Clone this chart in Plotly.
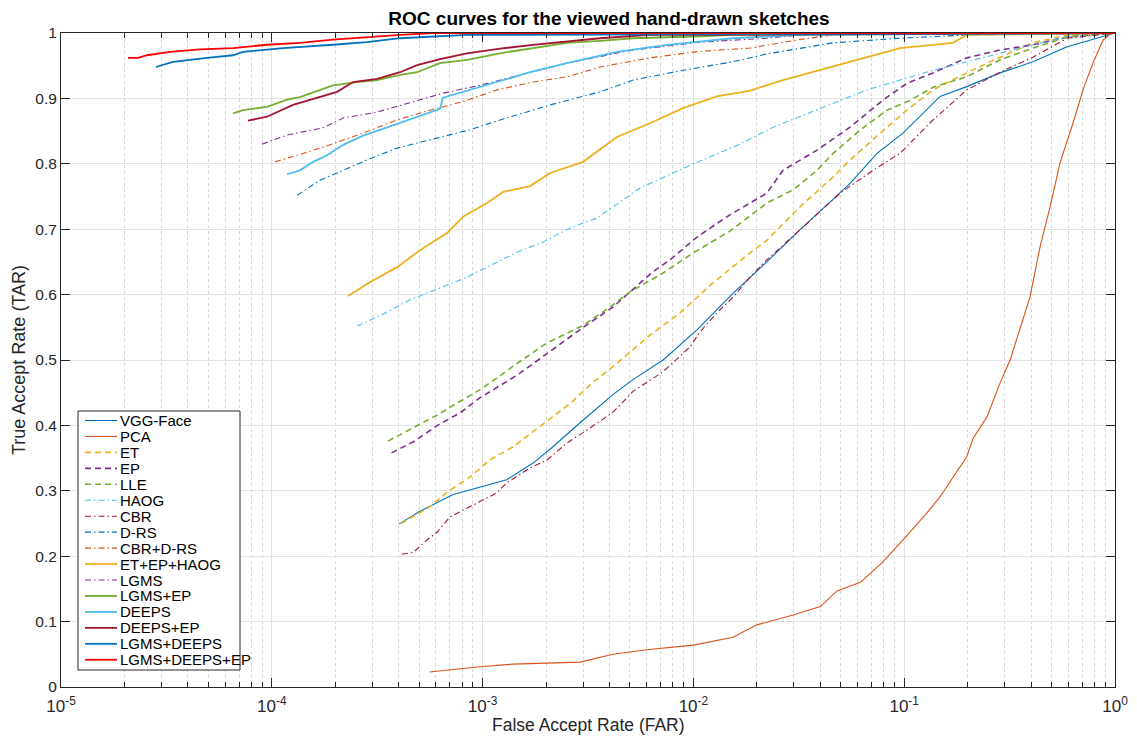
import plotly.graph_objects as go

# ---------------- data ----------------
series_names = ["VGG-Face", "PCA", "ET", "EP", "LLE", "HAOG", "CBR", "D-RS", "CBR+D-RS",
                "ET+EP+HAOG", "LGMS", "LGMS+EP", "DEEPS", "DEEPS+EP", "LGMS+DEEPS", "LGMS+DEEPS+EP"]

far_vgg = [4.0e-4, 5.0e-4, 7.2e-4, 1.0e-3, 1.3e-3, 1.73e-3, 2.15e-3, 2.9e-3, 4.15e-3, 5.17e-3, 7.18e-3,
           1.04e-2, 1.54e-2, 2.23e-2, 3.2e-2, 5.54e-2, 7.43e-2, 9.87e-2, 0.148, 0.198, 0.285, 0.408, 0.593, 1.0]
tar_vgg = [0.249, 0.268, 0.294, 0.307, 0.317, 0.342, 0.367, 0.404, 0.447, 0.47, 0.5,
           0.546, 0.602, 0.65, 0.699, 0.77, 0.816, 0.847, 0.903, 0.918, 0.939, 0.956, 0.979, 1.0]

far_pca = [5.6e-4, 9.7e-4, 1.39e-3, 2.9e-3, 4.15e-3, 6.0e-3, 1.0e-2, 1.54e-2, 2.0e-2, 2.97e-2, 4.0e-2,
           4.8e-2, 6.2e-2, 7.9e-2, 9.87e-2, 0.128, 0.148, 0.17, 0.198, 0.212, 0.247, 0.285, 0.318,
           0.395, 0.441, 0.492, 0.548, 0.632, 0.705, 0.786, 0.877, 0.947, 1.0]
tar_pca = [0.023, 0.031, 0.035, 0.038, 0.05, 0.057, 0.064, 0.076, 0.095, 0.11, 0.123,
           0.147, 0.16, 0.191, 0.225, 0.266, 0.291, 0.321, 0.352, 0.38, 0.413, 0.465, 0.5,
           0.596, 0.673, 0.734, 0.801, 0.862, 0.913, 0.954, 0.989, 0.998, 1.0]

far_et = [4.1e-4, 5.6e-4, 6.8e-4, 8.7e-4, 1.08e-3, 1.39e-3, 1.73e-3, 2.15e-3, 2.66e-3, 3.34e-3, 4.34e-3,
          6.22e-3, 8.64e-3, 1.24e-2, 1.86e-2, 2.23e-2, 3.2e-2, 4.6e-2, 5.54e-2, 7.7e-2, 0.103, 0.137,
          0.198, 0.285, 0.408, 0.593, 1.0]
tar_et = [0.25, 0.275, 0.298, 0.321, 0.347, 0.367, 0.39, 0.413, 0.436, 0.466, 0.495,
          0.538, 0.572, 0.618, 0.664, 0.683, 0.734, 0.78, 0.806, 0.847, 0.882, 0.913,
          0.939, 0.963, 0.985, 0.997, 1.0]

far_ep = [3.7e-4, 4.7e-4, 6.1e-4, 7.8e-4, 9.7e-4, 1.46e-3, 1.93e-3, 3.0e-3, 4.15e-3, 5.0e-3, 6.43e-3,
          7.74e-3, 1.04e-2, 1.49e-2, 2.23e-2, 2.66e-2, 3.86e-2, 5.54e-2, 7.9e-2, 0.103, 0.137, 0.198,
          0.285, 0.408, 0.593, 1.0]
tar_ep = [0.358, 0.375, 0.40, 0.419, 0.442, 0.477, 0.505, 0.55, 0.581, 0.604, 0.635,
          0.653, 0.688, 0.722, 0.755, 0.79, 0.821, 0.856, 0.897, 0.923, 0.939, 0.962,
          0.974, 0.982, 0.994, 1.0]

far_lle = [3.56e-4, 4.7e-4, 6.1e-4, 7.56e-4, 1.0e-3, 1.46e-3, 2.02e-3, 3.0e-3, 4.02e-3, 5.0e-3, 7.18e-3,
           1.0e-2, 1.49e-2, 2.23e-2, 2.97e-2, 3.86e-2, 4.6e-2, 6.2e-2, 8.29e-2, 0.1065, 0.137, 0.198,
           0.285, 0.408, 0.593, 1.0]
tar_lle = [0.376, 0.396, 0.416, 0.434, 0.457, 0.495, 0.526, 0.553, 0.581, 0.604, 0.633,
           0.664, 0.697, 0.74, 0.76, 0.79, 0.816, 0.852, 0.882, 0.897, 0.917, 0.933,
           0.959, 0.977, 0.994, 1.0]

far_haog = [2.54e-4, 3.37e-4, 4.52e-4, 6.28e-4, 8.07e-4, 1.05e-3, 1.46e-3, 1.93e-3, 2.6e-3, 3.49e-3,
            4.63e-3, 5.58e-3, 1.0e-2, 1.66e-2, 2.39e-2, 3.2e-2, 4.6e-2, 6.66e-2, 9.55e-2, 0.137, 0.198,
            0.285, 0.408, 0.593, 1.0]
tar_haog = [0.552, 0.57, 0.592, 0.61, 0.624, 0.642, 0.665, 0.68, 0.702, 0.717,
            0.745, 0.763, 0.8, 0.83, 0.856, 0.872, 0.893, 0.913, 0.928, 0.943, 0.956,
            0.969, 0.982, 0.994, 1.0]

far_cbr = [4.15e-4, 4.7e-4, 5.45e-4, 6.1e-4, 7.0e-4, 9.0e-4, 1.17e-3, 1.3e-3, 1.68e-3, 2.02e-3, 2.51e-3,
           3.13e-3, 4.15e-3, 5.17e-3, 7.18e-3, 9.64e-3, 1.075e-2, 1.29e-2, 1.54e-2, 1.86e-2, 2.23e-2,
           3.2e-2, 4.96e-2, 7.11e-2, 9.55e-2, 0.137, 0.198, 0.285, 0.408, 0.593, 1.0]
tar_cbr = [0.203, 0.206, 0.225, 0.237, 0.26, 0.278, 0.297, 0.312, 0.335, 0.347, 0.373,
           0.393, 0.42, 0.452, 0.482, 0.52, 0.543, 0.572, 0.596, 0.627, 0.653,
           0.699, 0.755, 0.79, 0.816, 0.867, 0.913, 0.94, 0.963, 0.992, 1.0]

far_drs = [1.32e-4, 1.69e-4, 2.11e-4, 2.83e-4, 3.93e-4, 6.1e-4, 8.7e-4, 1.21e-3, 2.09e-3, 3.61e-3,
           5.17e-3, 8.93e-3, 1.54e-2, 2.23e-2, 3.2e-2, 4.6e-2, 9.55e-2, 0.198, 1.0]
tar_drs = [0.752, 0.775, 0.788, 0.806, 0.824, 0.839, 0.852, 0.867, 0.89, 0.91,
           0.928, 0.943, 0.956, 0.968, 0.977, 0.985, 0.992, 0.997, 1.0]

far_cbrdrs = [1.035e-4, 1.32e-4, 1.89e-4, 2.71e-4, 3.93e-4, 5.63e-4, 8.07e-4, 1.17e-3, 1.73e-3, 2.51e-3,
              3.61e-3, 6.22e-3, 1.075e-2, 1.86e-2, 3.2e-2, 4.6e-2, 1.0]
tar_cbrdrs = [0.803, 0.813, 0.829, 0.847, 0.867, 0.882, 0.895, 0.913, 0.925, 0.933,
              0.948, 0.962, 0.972, 0.977, 0.99, 0.997, 1.0]

far_eteph = [2.3e-4, 2.92e-4, 3.93e-4, 5.05e-4, 6.78e-4, 8.07e-4, 1.05e-3, 1.25e-3, 1.68e-3, 2.09e-3,
             3.0e-3, 4.34e-3, 6.22e-3, 8.93e-3, 1.29e-2, 1.86e-2, 2.66e-2, 3.2e-2, 5.54e-2, 9.55e-2,
             0.17, 0.198, 1.0]
tar_eteph = [0.598, 0.619, 0.642, 0.668, 0.694, 0.719, 0.74, 0.757, 0.766, 0.786,
             0.803, 0.841, 0.862, 0.885, 0.903, 0.912, 0.928, 0.935, 0.956, 0.977,
             0.985, 0.997, 1.0]

far_lgms = [8.98e-5, 1.18e-4, 1.75e-4, 2.18e-4, 3.16e-4, 4.52e-4, 6.49e-4, 9.7e-4, 1.68e-3, 2.51e-3,
            5.17e-3, 1.075e-2, 2.23e-2, 3.2e-2, 1.0]
tar_lgms = [0.83, 0.844, 0.855, 0.87, 0.879, 0.893, 0.908, 0.92, 0.94, 0.954,
            0.974, 0.986, 0.992, 0.997, 1.0]

far_lgmsep = [6.55e-5, 7.3e-5, 9.49e-5, 1.18e-4, 1.36e-4, 1.64e-4, 1.95e-4, 2.54e-4, 3.16e-4, 4.06e-4,
              4.89e-4, 6.28e-4, 8.43e-4, 1.21e-3, 1.73e-3, 2.51e-3, 3.61e-3, 5.17e-3, 1.075e-2, 1.54e-2, 1.0]
tar_lgmsep = [0.877, 0.882, 0.887, 0.898, 0.902, 0.911, 0.92, 0.925, 0.928, 0.936,
              0.94, 0.954, 0.959, 0.969, 0.977, 0.985, 0.988, 0.992, 0.995, 0.997, 1.0]

far_deeps = [1.18e-4, 1.36e-4, 1.57e-4, 1.83e-4, 2.18e-4, 2.71e-4, 3.26e-4, 4.19e-4, 5.22e-4, 6.28e-4,
             6.49e-4, 8.7e-4, 1.17e-3, 1.68e-3, 2.51e-3, 4.34e-3, 7.5e-3, 1.54e-2, 3.2e-2, 1.0]
tar_deeps = [0.784, 0.79, 0.803, 0.813, 0.829, 0.843, 0.852, 0.864, 0.875, 0.884,
             0.901, 0.913, 0.925, 0.94, 0.954, 0.971, 0.982, 0.992, 0.997, 1.0]

far_deepsep = [7.71e-5, 9.49e-5, 1.26e-4, 1.64e-4, 2.04e-4, 2.43e-4, 3.16e-4, 4.06e-4, 4.89e-4, 6.28e-4,
               8.43e-4, 1.21e-3, 1.73e-3, 3.61e-3, 6.22e-3, 1.0]
tar_deepsep = [0.866, 0.872, 0.89, 0.901, 0.91, 0.925, 0.93, 0.94, 0.951, 0.96,
               0.969, 0.976, 0.982, 0.992, 0.997, 1.0]

far_lgmsdeeps = [2.82e-5, 3.4e-5, 4.93e-5, 6.55e-5, 7.3e-5, 9.49e-5, 1.13e-4, 1.95e-4, 2.83e-4, 4.06e-4,
                 8.43e-4, 1.0]
tar_lgmsdeeps = [0.948, 0.956, 0.962, 0.966, 0.971, 0.974, 0.977, 0.982, 0.986, 0.992,
                 0.997, 1.0]

far_all = [2.08e-5, 2.32e-5, 2.56e-5, 3.05e-5, 3.29e-5, 4.56e-5, 6.55e-5, 9.49e-5, 1.36e-4, 1.95e-4,
           2.83e-4, 4.06e-4, 5.82e-4, 1.0]
tar_all = [0.962, 0.962, 0.966, 0.969, 0.971, 0.975, 0.977, 0.982, 0.985, 0.99,
           0.994, 0.997, 1.0, 1.0]

x_tick_vals = [1e-5, 1e-4, 1e-3, 1e-2, 1e-1, 1]
x_tick_text = ["10<sup>-5</sup>", "10<sup>-4</sup>", "10<sup>-3</sup>", "10<sup>-2</sup>",
               "10<sup>-1</sup>", "10<sup>0</sup>"]
y_tick_vals = [0, 0.1, 0.2, 0.3, 0.4, 0.5, 0.6, 0.7, 0.8, 0.9, 1]
y_tick_text = ["0", "0.1", "0.2", "0.3", "0.4", "0.5", "0.6", "0.7", "0.8", "0.9", "1"]
x_minor_vals = [m * d for d in [1e-5, 1e-4, 1e-3, 1e-2, 1e-1] for m in range(2, 10)]

# ---------------- styles ----------------
BLUE, ORANGE, YELLOW, PURPLE = "#0072BD", "#D95319", "#EDB120", "#7E2F8E"
GREEN, CYAN, DARKRED, RED = "#77AC30", "#4DBEEE", "#A2142F", "#FF0000"
DASH = "6px,4px"
DASHDOT = "6px,3px,1.5px,3px"

series = [
    (far_vgg, tar_vgg, BLUE, "solid", 1.1),
    (far_pca, tar_pca, ORANGE, "solid", 1.1),
    (far_et, tar_et, YELLOW, DASH, 1.6),
    (far_ep, tar_ep, PURPLE, DASH, 1.6),
    (far_lle, tar_lle, GREEN, DASH, 1.6),
    (far_haog, tar_haog, CYAN, DASHDOT, 1.1),
    (far_cbr, tar_cbr, DARKRED, DASHDOT, 1.1),
    (far_drs, tar_drs, BLUE, DASHDOT, 1.1),
    (far_cbrdrs, tar_cbrdrs, ORANGE, DASHDOT, 1.1),
    (far_eteph, tar_eteph, YELLOW, "solid", 1.8),
    (far_lgms, tar_lgms, PURPLE, DASHDOT, 1.1),
    (far_lgmsep, tar_lgmsep, GREEN, "solid", 1.8),
    (far_deeps, tar_deeps, CYAN, "solid", 1.8),
    (far_deepsep, tar_deepsep, DARKRED, "solid", 1.8),
    (far_lgmsdeeps, tar_lgmsdeeps, BLUE, "solid", 1.8),
    (far_all, tar_all, RED, "solid", 1.8),
]

fig = go.Figure()
for name, (xs, ys, col, dash, w) in zip(series_names, series):
    fig.add_trace(go.Scatter(x=xs, y=ys, mode="lines", name=name,
                             line=dict(color=col, dash=dash, width=w)))

FONT = "Liberation Sans, Arial, Helvetica, sans-serif"
AXC = "#262626"
GRID = "#E3E3E3"

# ---------------- layout geometry (pixels) ----------------
W, H = 1137, 738
ML, MR, MT, MB = 61, 22, 33, 51
PW, PH = W - ML - MR, H - MT - MB


def px_x(px):
    return (px - ML) / PW


def px_y(py):
    return (H - MB - py) / PH


# compact MATLAB-style legend (box, sample lines, labels)
LEG_L, LEG_R, LEG_T, LEG_B = 78, 240, 411, 670
SAMPLE_X0, SAMPLE_X1, TEXT_X = 85, 117, 119
ROW0, ROW_STEP = 420.5, 15.95

shapes = [dict(type="rect", xref="paper", yref="paper",
               x0=px_x(LEG_L), x1=px_x(LEG_R), y0=px_y(LEG_B), y1=px_y(LEG_T),
               fillcolor="white", line=dict(color=AXC, width=1), layer="above")]
annotations = []
for i, (name, (xs, ys, col, dash, w)) in enumerate(zip(series_names, series)):
    yrow = ROW0 + i * ROW_STEP
    shapes.append(dict(type="line", xref="paper", yref="paper",
                       x0=px_x(SAMPLE_X0), x1=px_x(SAMPLE_X1), y0=px_y(yrow), y1=px_y(yrow),
                       line=dict(color=col, dash=dash, width=w), layer="above"))
    annotations.append(dict(text=name, xref="paper", yref="paper", x=px_x(TEXT_X), y=px_y(yrow),
                            xanchor="left", yanchor="middle", showarrow=False, borderpad=0,
                            font=dict(size=15, color="black", family=FONT)))

# x-axis title placed just under the tick labels, as in the reference
annotations.append(dict(text="False Accept Rate (FAR)", xref="paper", yref="paper",
                        x=0.5, y=px_y(725), xanchor="center", yanchor="middle",
                        showarrow=False, borderpad=0, font=dict(size=17.5, color=AXC, family=FONT)))

fig.update_layout(
    width=W, height=H,
    margin=dict(l=ML, r=MR, t=MT, b=MB, autoexpand=False),
    paper_bgcolor="white", plot_bgcolor="white",
    font=dict(family=FONT, size=15, color=AXC),
    title=dict(text="<b>ROC curves for the viewed hand-drawn sketches</b>",
               x=px_x(609), xref="paper", xanchor="center", y=1 - 18 / H, yanchor="middle",
               font=dict(size=19, color="black", family=FONT)),
    showlegend=False,
    shapes=shapes,
    annotations=annotations,
)

fig.update_xaxes(
    type="log", range=[-5, 0], automargin=False,
    tickvals=x_tick_vals, ticktext=x_tick_text,
    ticks="inside", ticklen=9, tickwidth=1, tickcolor=AXC,
    showline=True, linecolor=AXC, linewidth=1, mirror="ticks",
    showgrid=True, gridcolor=GRID, gridwidth=1,
    zeroline=False,
    ticklabelstandoff=4,
    minor=dict(tickvals=x_minor_vals, ticks="inside", ticklen=5, tickcolor=AXC,
               showgrid=True, gridcolor="#D5D5D5", griddash="dot", gridwidth=1),
    tickfont=dict(size=17, color=AXC),
)
fig.update_yaxes(
    range=[0, 1], automargin=False,
    tickvals=y_tick_vals, ticktext=y_tick_text,
    ticks="inside", ticklen=9, tickwidth=1, tickcolor=AXC,
    showline=True, linecolor=AXC, linewidth=1, mirror="ticks",
    showgrid=True, gridcolor=GRID, gridwidth=1,
    zeroline=False,
    title=dict(text="True Accept Rate (TAR)", font=dict(size=18, color=AXC), standoff=5),
    tickfont=dict(size=15.5, color=AXC),
)

fig.write_html("out.html")
